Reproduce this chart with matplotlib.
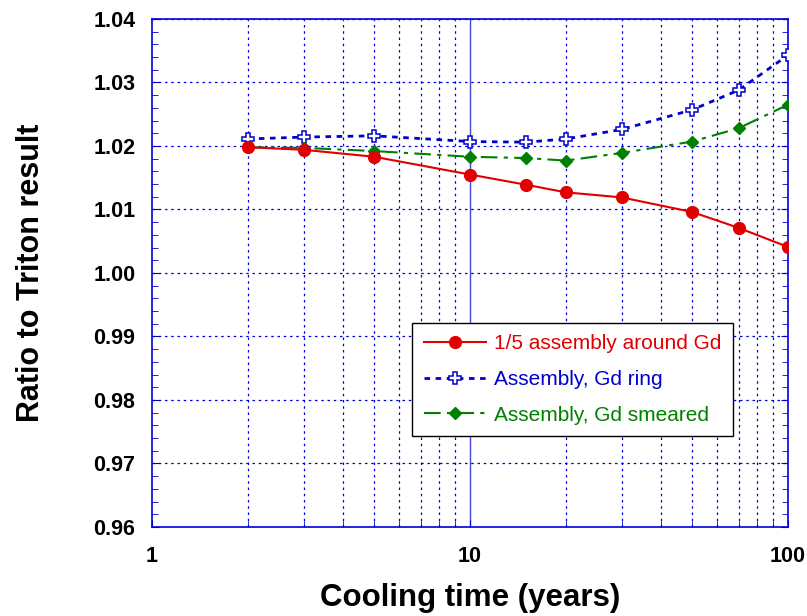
import matplotlib
matplotlib.use("Agg")
import matplotlib.pyplot as plt
from matplotlib.ticker import LogLocator, FixedLocator, MultipleLocator, NullFormatter

plt.rcParams["font.family"] = ["Liberation Sans", "DejaVu Sans"]

years = [2, 3, 5, 10, 15, 20, 30, 50, 70, 100]
fifth_assembly = [1.0198, 1.0194, 1.0183, 1.0155, 1.0139, 1.0127, 1.0119, 1.0096, 1.0071, 1.0041]
gd_ring = [1.0211, 1.0214, 1.0216, 1.0207, 1.0206, 1.0211, 1.0226, 1.0257, 1.0288, 1.0343]
gd_smeared = [1.0198, 1.0197, 1.0192, 1.0183, 1.0181, 1.0177, 1.0189, 1.0207, 1.0228, 1.0265]

grid_blue = "#0000dd"

fig = plt.figure(figsize=(8.07, 6.16), dpi=100)
ax = fig.add_axes([0.1884, 0.1445, 0.788, 0.8247])

ax.plot(years, fifth_assembly, color="#e00000", lw=1.5, marker="o", ms=8.5,
        label="1/5 assembly around Gd", zorder=5)
ax.plot(years, gd_ring, color="#0000cc", lw=2, ls=(0, (2, 2)), marker="P", ms=9,
        mfc="white", mec="#0000cc", mew=1.1, label="Assembly, Gd ring", zorder=4)
ax.plot(years, gd_smeared, color="#008000", lw=1.5, ls=(0, (8, 3, 2, 3)), marker="D", ms=6,
        label="Assembly, Gd smeared", zorder=4)

ax.set_xscale("log")
ax.set_xlim(1, 100)
ax.set_ylim(0.96, 1.04)

ax.xaxis.set_major_locator(FixedLocator([1, 10, 100]))
ax.xaxis.set_minor_locator(LogLocator(base=10, subs=range(2, 10)))
ax.xaxis.set_minor_formatter(NullFormatter())
ax.set_xticklabels(["1", "10", "100"])
ax.yaxis.set_major_locator(MultipleLocator(0.01))
ax.yaxis.set_minor_locator(MultipleLocator(0.002))
ax.yaxis.set_major_formatter(plt.FormatStrFormatter("%.2f"))

ax.grid(which="minor", axis="x", color=grid_blue, ls=(0, (2, 3)), lw=0.9)
ax.grid(which="major", axis="y", color=grid_blue, ls=(0, (2, 3)), lw=0.9)
ax.axvline(10, color="#4444dd", lw=1.0, zorder=1)

for s in ax.spines.values():
    s.set_color(grid_blue)
    s.set_linewidth(1.2)

ax.tick_params(which="both", direction="in", color=grid_blue, right=True, top=False,
               labelsize=15.5)
ax.tick_params(axis="y", pad=12)
ax.tick_params(axis="x", pad=14)
ax.tick_params(which="major", length=5)
ax.tick_params(which="minor", length=4)
for lbl in ax.get_xticklabels() + ax.get_yticklabels():
    lbl.set_fontweight("bold")

ax.set_xlabel("Cooling time (years)", fontsize=22.5, fontweight="bold", labelpad=11)
ax.set_ylabel("Ratio to Triton result", fontsize=22, fontweight="bold", labelpad=34)

leg = ax.legend(loc="lower left", bbox_to_anchor=(0.409, 0.179), fontsize=15,
                frameon=True, fancybox=False, edgecolor="black", framealpha=1,
                handlelength=3.0, handletextpad=0.4, labelspacing=0.8, borderpad=0.55,
                borderaxespad=0)
leg.get_frame().set_linewidth(1.0)
for txt, c in zip(leg.get_texts(), ["#e00000", "#0000cc", "#008000"]):
    txt.set_color(c)

fig.savefig("out.png", dpi=100)
